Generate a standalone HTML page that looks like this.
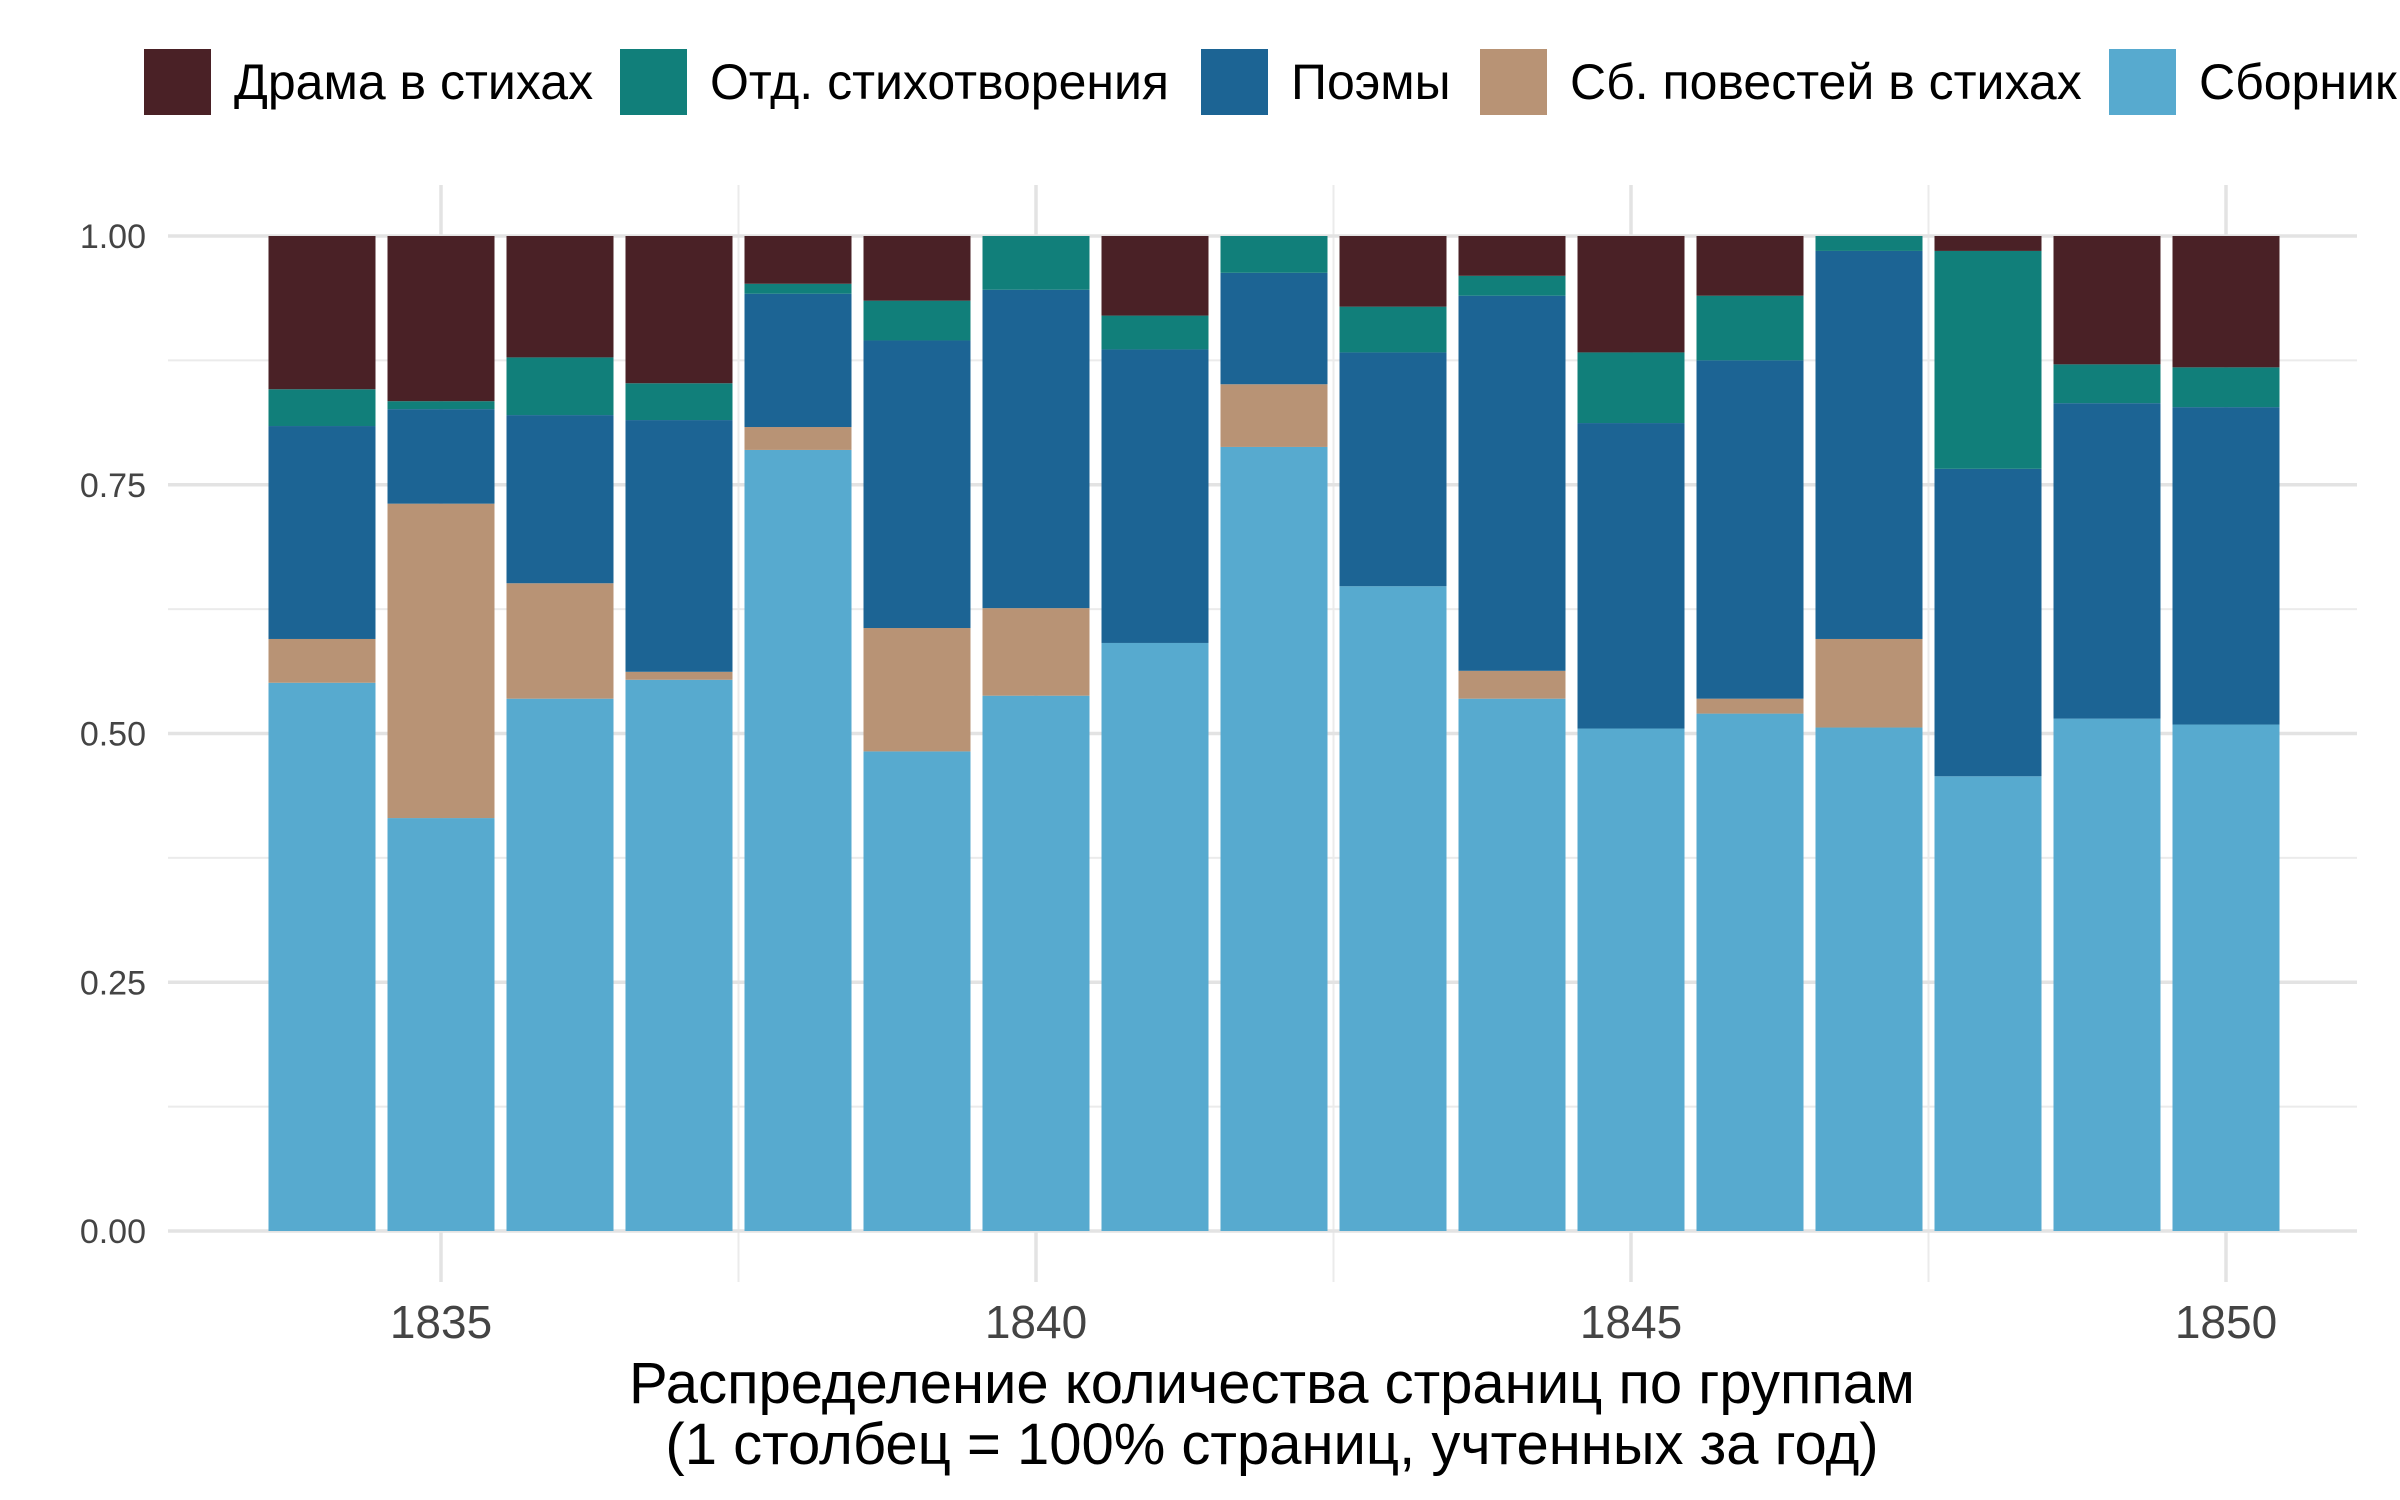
<!DOCTYPE html>
<html><head><meta charset="utf-8"><style>
html,body{margin:0;padding:0;background:#fff;}
svg{display:block;font-family:"Liberation Sans",Arial,sans-serif;}
</style></head><body>
<svg id="chart" width="2400" height="1500" viewBox="0 0 2400 1500">
<g id="grid"></g>
<g id="bars"></g>
<g id="axes"></g>
<g id="legend"></g>
<text x="1272" y="1403" text-anchor="middle" font-size="58" fill="#000">Распределение количества страниц по группам</text>
<text x="1272" y="1464" text-anchor="middle" font-size="58" fill="#000">(1 столбец = 100% страниц, учтенных за год)</text>
</svg>
<script>
const years = [1834,1835,1836,1837,1838,1839,1840,1841,1842,1843,1844,1845,1846,1847,1848,1849,1850];
const seriesNames = ["Сборники","Сб. повестей в стихах","Поэмы","Отд. стихотворения","Драма в стихах"];
const sborniki = [0.551,0.415,0.535,0.554,0.785,0.482,0.538,0.591,0.788,0.648,0.535,0.505,0.520,0.506,0.457,0.515,0.509];
const povesti  = [0.044,0.316,0.116,0.008,0.023,0.124,0.088,0.000,0.063,0.000,0.028,0.000,0.015,0.089,0.000,0.000,0.000];
const poemy    = [0.214,0.095,0.169,0.253,0.134,0.289,0.320,0.295,0.112,0.235,0.377,0.307,0.340,0.390,0.309,0.317,0.319];
const otd      = [0.037,0.008,0.058,0.037,0.010,0.040,0.054,0.034,0.037,0.046,0.020,0.071,0.065,0.015,0.219,0.039,0.040];
const drama    = [0.154,0.166,0.122,0.148,0.048,0.065,0.000,0.080,0.000,0.071,0.040,0.117,0.060,0.000,0.015,0.129,0.132];
const yTicks = [0,0.25,0.5,0.75,1];
const yTickLabels = ["0.00","0.25","0.50","0.75","1.00"];
const xTicks = [1835,1840,1845,1850];
const colors = ["#57aacf","#b89375","#1c6494","#117f7a","#4a2126"];
const NS="http://www.w3.org/2000/svg";
const X0=168,X1=2357,Y0=1231,Y1=236;
const xs=y=>441+(y-1835)*119;
const ys=v=>Y0-(Y0-Y1)*v;
const barW=107;
function mk(tag,attrs,parent){const e=document.createElementNS(NS,tag);for(const k in attrs)e.setAttribute(k,attrs[k]);parent.appendChild(e);return e;}
const grid=document.getElementById('grid'),bars=document.getElementById('bars'),axes=document.getElementById('axes'),legend=document.getElementById('legend');
for(let v=0.125;v<1;v+=0.25){const l=mk('line',{x1:X0,x2:X1,y1:ys(v),y2:ys(v),stroke:'#ebebeb','stroke-width':2},grid);

}
for(let yr=1832.5;yr<=1852.5;yr+=5){if(xs(yr)<X0||xs(yr)>X1)continue;const l=mk('line',{x1:xs(yr),x2:xs(yr),y1:185,y2:1282,stroke:'#ebebeb','stroke-width':2},grid);

}
yTicks.forEach((v,i)=>{const l=mk('line',{x1:X0,x2:X1,y1:ys(v),y2:ys(v),stroke:'#e3e3e3','stroke-width':3.5},grid);


const t=mk('text',{x:146,y:ys(v)+12,'text-anchor':'end','font-size':34,fill:'#444'},axes);t.textContent=yTickLabels[i];

});
xTicks.forEach(yr=>{const l=mk('line',{x1:xs(yr),x2:xs(yr),y1:185,y2:1282,stroke:'#e3e3e3','stroke-width':3.5},grid);


const t=mk('text',{x:xs(yr),y:1338,'text-anchor':'middle','font-size':46,fill:'#444'},axes);t.textContent=yr;

});
const series=[sborniki,povesti,poemy,otd,drama];
years.forEach((yr,i)=>{let cum=0;series.forEach((s,k)=>{const v=s[i];if(v>0){const r=mk('rect',{x:xs(yr)-barW/2,y:ys(cum+v),width:barW,height:ys(cum)-ys(cum+v),fill:colors[k]},bars);

}cum+=v;});});
const legOrder=[4,3,2,1,0];const sqX=[144,620,1201,1480,2109];
legOrder.forEach((k,j)=>{const r=mk('rect',{x:sqX[j],y:49,width:67,height:66,fill:colors[k]},legend);


const t=mk('text',{x:sqX[j]+90,y:99,'font-size':50,fill:'#000'},legend);t.textContent=seriesNames[k];

});
</script>
</body></html>
